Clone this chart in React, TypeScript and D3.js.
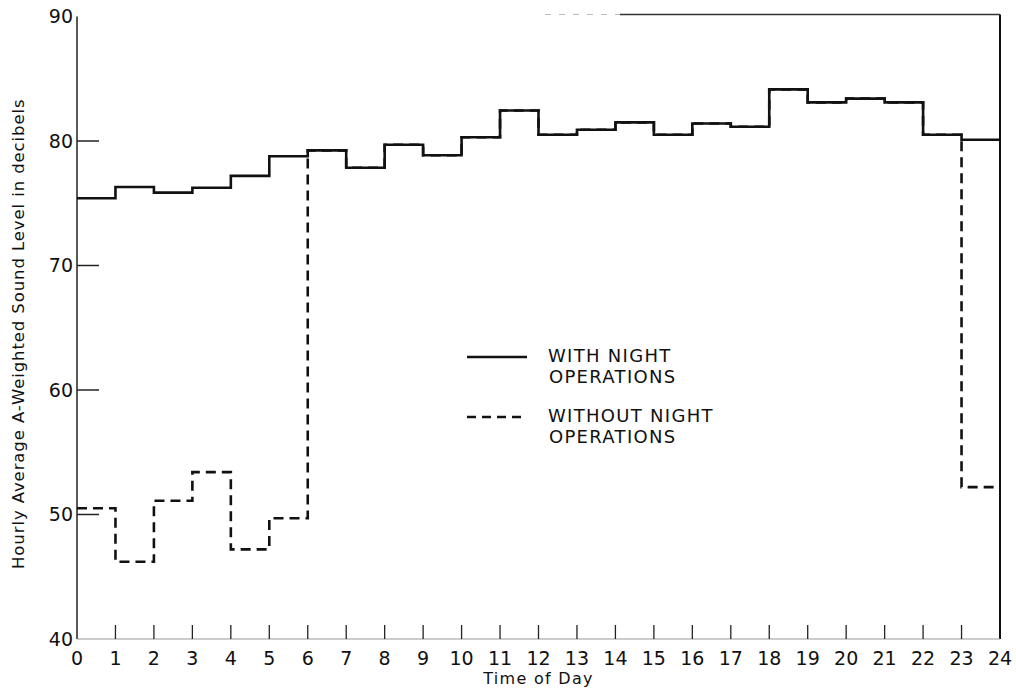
import * as d3 from 'd3';

// hourly levels, dB(A)
const hours = d3.range(0, 24);
const withNight = [
  75.4, 76.3, 75.85, 76.25, 77.2, 78.77, 79.25, 77.85, 79.7, 78.85, 80.3, 82.45,
  80.5, 80.9, 81.5, 80.5, 81.4, 81.15, 84.15, 83.1, 83.4, 83.1, 80.5, 80.1,
];
const withoutNight = [
  50.5, 46.2, 51.1, 53.4, 47.2, 49.7, 79.25, 77.85, 79.7, 78.85, 80.3, 82.45,
  80.5, 80.9, 81.5, 80.5, 81.4, 81.15, 84.15, 83.1, 83.4, 83.1, 80.5, 52.2,
];
const xTicks = d3.range(0, 25);
const yTicks = [40, 50, 60, 70, 80, 90];
const legendItems = [
  { lines: ['WITH NIGHT', 'OPERATIONS'], dash: null },
  { lines: ['WITHOUT NIGHT', 'OPERATIONS'], dash: '9,6' },
];

const width = 1016;
const height = 691;
const margin = { left: 77, right: 16, top: 16.5, bottom: 52 };
const font = '"DejaVu Sans", sans-serif';

export default function App() {
  const x = d3.scaleLinear().domain([0, 24]).range([margin.left, width - margin.right]);
  const y = d3.scaleLinear().domain([40, 90]).range([height - margin.bottom, margin.top]);

  const step = d3
    .line<[number, number]>()
    .x((d) => x(d[0]))
    .y((d) => y(d[1]))
    .curve(d3.curveStepAfter);

  const toPts = (vals: number[]): [number, number][] => {
    const pts: [number, number][] = hours.map((h, i) => [h, vals[i]]);
    pts.push([24, vals[vals.length - 1]]);
    return pts;
  };

  const x0 = x(0);
  const x1 = x(24);
  const yb = y(40);
  const yt = y(90);

  return (
    <svg
      width={width}
      height={height}
      style={{ position: 'absolute', left: 0, top: 0, background: '#fff' }}
      fontFamily={font}
    >
      {/* frame */}
      <line x1={x0} x2={x0} y1={yt} y2={yb} stroke="#222" strokeWidth={1.5} />
      <line x1={x1} x2={x1} y1={yt - 2} y2={yb} stroke="#111" strokeWidth={2} />
      <line x1={x0} x2={x1} y1={yb} y2={yb} stroke="#999" strokeWidth={1} />
      <line x1={620} x2={x1} y1={yt - 2} y2={yt - 2} stroke="#333" strokeWidth={1.5} />
      <line x1={545} x2={620} y1={yt - 2} y2={yt - 2} stroke="#bbb" strokeWidth={1} strokeDasharray="6,8" />

      {/* y ticks */}
      {yTicks.map((t) => (
        <g key={'y' + t}>
          {t > 40 && t < 90 && (
            <line x1={x0} x2={x0 + 22} y1={y(t)} y2={y(t)} stroke="#222" strokeWidth={1.5} />
          )}
          <text x={x0 - 4} y={y(t)} dy="0.36em" textAnchor="end" fontSize={19} fill="#111">
            {t}
          </text>
        </g>
      ))}

      {/* x ticks */}
      {xTicks.map((t) => (
        <g key={'x' + t}>
          {t > 0 && t < 24 && (
            <line x1={x(t)} x2={x(t)} y1={yb} y2={yb - 14} stroke="#222" strokeWidth={1.3} />
          )}
          <text x={x(t)} y={665} textAnchor="middle" fontSize={19} fill="#111">
            {t}
          </text>
        </g>
      ))}

      {/* axis titles */}
      <text x={x(12)} y={684} textAnchor="middle" fontSize={16} letterSpacing={1.3} fill="#111">
        Time of Day
      </text>
      <text
        transform={`translate(24,${(yt + yb) / 2 + 6}) rotate(-90)`}
        textAnchor="middle"
        fontSize={16.5}
        letterSpacing={0.9}
        fill="#111"
      >
        Hourly Average A-Weighted Sound Level in decibels
      </text>

      {/* series */}
      <path d={step(toPts(withoutNight)) || ''} fill="none" stroke="#111" strokeWidth={2.6} strokeDasharray="10,6" />
      <path d={step(toPts(withNight)) || ''} fill="none" stroke="#111" strokeWidth={2.6} />

      {/* legend */}
      {legendItems.map((item, i) => {
        const ly = 357 + i * 60;
        return (
          <g key={'lg' + i}>
            <line
              x1={467}
              x2={527}
              y1={ly}
              y2={ly}
              stroke="#111"
              strokeWidth={2.4}
              strokeDasharray={item.dash || undefined}
            />
            {item.lines.map((s, j) => (
              <text
                key={j}
                x={548 + j * 1}
                y={ly + 5 + j * 21}
                fontSize={18}
                letterSpacing={1.3}
                fill="#111"
              >
                {s}
              </text>
            ))}
          </g>
        );
      })}
    </svg>
  );
}
